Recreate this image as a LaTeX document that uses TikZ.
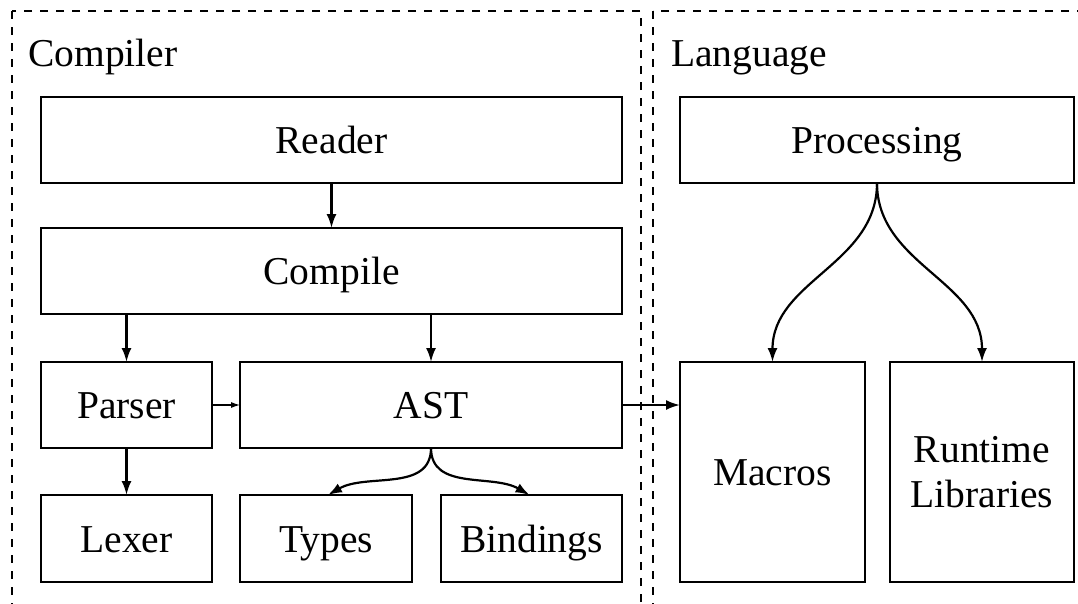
\documentclass[tikz,border=0pt]{standalone}
\usepackage{fontspec}
\setmainfont{Liberation Serif}
\usetikzlibrary{arrows.meta}
\tikzset{
  basebox/.style={draw, line width=2.2pt, inner sep=0pt, outer sep=0pt, align=center,
    font=\fontsize{39.5}{45}\selectfont},
  box/.style={basebox, text height=27pt, text depth=0pt},
  frame/.style={line width=2pt, dash pattern=on 8pt off 8pt},
  arr/.style={line width=2.2pt, -{Latex[length=14pt,width=10pt]}},
  thinarr/.style={line width=1.1pt, -{Latex[length=9pt,width=6pt]}},
  lbl/.style={anchor=base west, inner sep=0pt, font=\fontsize{39.5}{45}\selectfont}
}
\begin{document}
\begin{tikzpicture}[x=1pt,y=-1pt]
\useasboundingbox (0,0) rectangle (1078,603);
\clip (0,0) rectangle (1078,603);
\draw[frame] (12,11) rectangle (641,640);
\draw[frame] (653,11) rectangle (1120,640);
\node[lbl] (compilerlbl) at (28,66) {Compiler};
\node[lbl] (languagelbl) at (671,66) {Language};
\node[box, minimum width=581pt, minimum height=86pt] (reader) at (331.5,140) {Reader};
\node[box, minimum width=581pt, minimum height=86pt] (compile) at (331.5,271) {Compile};
\node[box, minimum width=171pt, minimum height=86pt] (parser) at (126.5,405) {Parser};
\node[box, minimum width=382pt, minimum height=86pt] (ast) at (431,405) {AST};
\node[box, minimum width=171pt, minimum height=87pt] (lexer) at (126.5,538.5) {Lexer};
\node[box, minimum width=172pt, minimum height=87pt] (types) at (326,538.5) {Types};
\node[box, minimum width=181pt, minimum height=87pt] (bindings) at (531.5,538.5) {Bindings};
\node[box, minimum width=394pt, minimum height=86pt] (processing) at (877,140) {Processing};
\node[box, minimum width=185pt, minimum height=220pt] (macros) at (772.5,472) {Macros};
\node[basebox, minimum width=184pt, minimum height=220pt] (runtime) at (982,472) {Runtime\\Libraries};
\draw[arr] (reader.south) -- (compile.north);
\draw[arr] (compile.south -| parser.north) -- (parser.north);
\draw[arr] (compile.south -| ast.north) -- (ast.north);
\draw[arr] (parser.south) -- (lexer.north);
\draw[thinarr] (parser.east) -- (ast.west);
\draw[arr] (ast.east) -- (macros.west |- ast.east);
\draw[arr] (ast.south) to[out=-90,in=30] ([xshift=2pt]types.north);
\draw[arr] (ast.south) to[out=-90,in=150] ([xshift=-2pt]bindings.north);
\draw[arr] (processing.south) to[out=-90,in=90] (macros.north);
\draw[arr] (processing.south) to[out=-90,in=90] (runtime.north);
\end{tikzpicture}
\end{document}
